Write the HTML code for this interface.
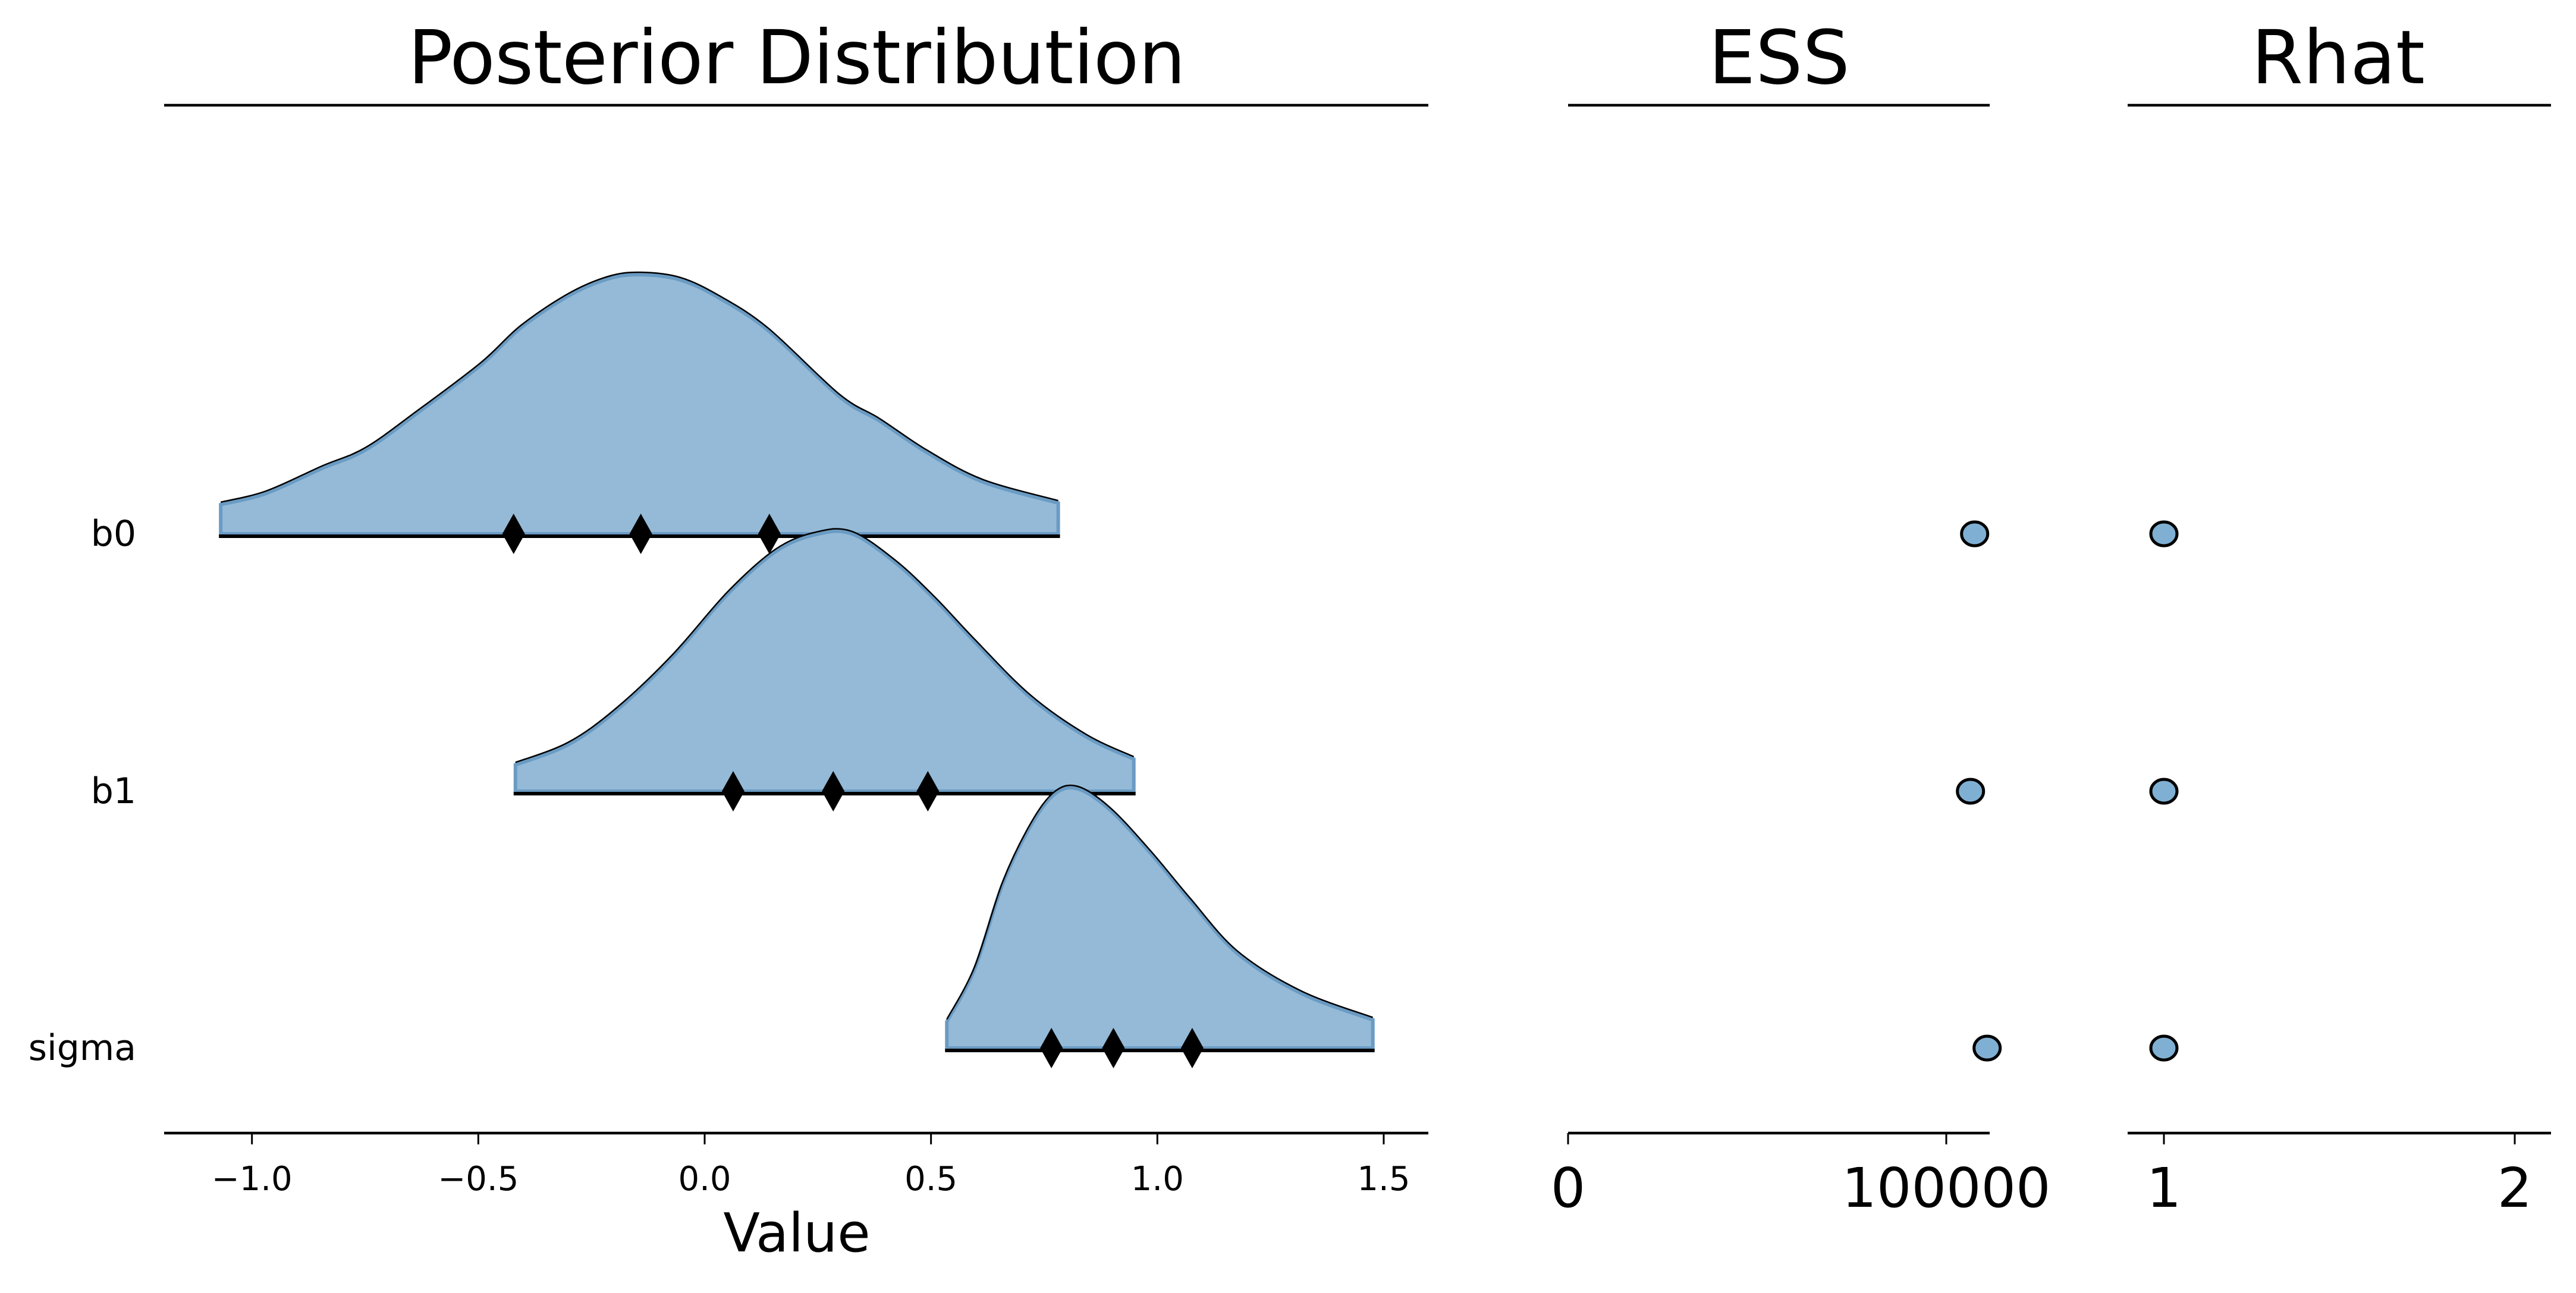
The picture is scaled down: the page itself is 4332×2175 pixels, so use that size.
<!DOCTYPE html>
<html><head><meta charset="utf-8"><style>
html,body{margin:0;padding:0;background:#fff;}
svg{display:block;font-family:"DejaVu Sans","Liberation Sans",sans-serif;}
</style></head><body>
<svg id="chart" width="4332" height="2175" viewBox="0 0 4332 2175" xmlns="http://www.w3.org/2000/svg">
<g id="g-post"></g>
<g id="g-ess"></g>
<g id="g-rhat"></g>
</svg>
<script>
const params = ["b0","b1","sigma"];
const b0X = [-1.069,-0.969,-0.846,-0.749,-0.634,-0.494,-0.406,-0.301,-0.213,-0.142,-0.054,0.034,0.140,0.298,0.386,0.491,0.614,0.781];
const b0D = [0.113,0.156,0.252,0.324,0.467,0.652,0.795,0.918,0.984,1.0,0.980,0.908,0.785,0.529,0.436,0.314,0.201,0.119];
const b1X = [-0.418,-0.301,-0.195,-0.072,0.051,0.156,0.244,0.324,0.420,0.508,0.596,0.719,0.843,0.948];
const b1D = [0.102,0.180,0.312,0.516,0.761,0.924,0.990,0.994,0.884,0.741,0.578,0.363,0.210,0.124];
const sigmaX = [0.535,0.596,0.658,0.720,0.773,0.825,0.896,0.984,1.072,1.177,1.318,1.476];
const sigmaD = [0.102,0.303,0.631,0.857,0.980,1.0,0.918,0.754,0.570,0.365,0.211,0.109];
const quantiles = [[-0.422,-0.141,0.143],[0.063,0.284,0.493],[0.766,0.903,1.077]];
const essValues = [107500,106400,110800];
const rhatValues = [1.0,1.0,1.0];
const valueTicks = [-1.0,-0.5,0.0,0.5,1.0,1.5];
const valueTickLabels = ["\u22121.0","\u22120.5","0.0","0.5","1.0","1.5"];
const essTicks = [0,100000];
const essTickLabels = ["0","100000"];
const rhatTicks = [1,2];
const rhatTickLabels = ["1","2"];

const NS="http://www.w3.org/2000/svg";
function mk(tag,attrs,parent){const e=document.createElementNS(NS,tag);for(const k in attrs)e.setAttribute(k,attrs[k]);parent.appendChild(e);return e;}
const xV = v => 1185 + v*761.3;
const rowY = [898,1331,1763];
const hScale = 436;
const xE = v => 2637 + v*0.00636;
const xR = v => 3639 + (v-1)*590;

const gP=document.getElementById('g-post');
const gE=document.getElementById('g-ess');
const gR=document.getElementById('g-rhat');
const fill="#94bad7", edge="#6a9bc3";

function smooth(pts){
  let d='';
  for(let i=0;i<pts.length-1;i++){
    const p0=pts[Math.max(0,i-1)],p1=pts[i],p2=pts[i+1],p3=pts[Math.min(pts.length-1,i+2)];
    const c1=[p1[0]+(p2[0]-p0[0])/6,p1[1]+(p2[1]-p0[1])/6];
    const c2=[p2[0]-(p3[0]-p1[0])/6,p2[1]-(p3[1]-p1[1])/6];
    d+=` C${c1[0].toFixed(1)},${c1[1].toFixed(1)} ${c2[0].toFixed(1)},${c2[1].toFixed(1)} ${p2[0].toFixed(1)},${p2[1].toFixed(1)}`;
  }
  return d;
}

function title(g,txt,cx,name,len){const t=mk('text',{x:cx,y:140,'font-size':125,'text-anchor':'middle',fill:'#000'},g);if(len)t.setAttribute('textLength',len);t.textContent=txt;

}
title(gP,"Posterior Distribution",1340,'posterior-title',1308);
title(gE,"ESS",2992,'ess-title');
title(gR,"Rhat",3932,'rhat-title');
function hline(g,x1,x2,y,name){const l=mk('line',{x1:x1,x2:x2,y1:y,y2:y,stroke:'#000','stroke-width':4.5},g);

}
hline(gP,276,2402,177,'posterior-top-line');
hline(gP,276,2402,1906,'value-axis-line');
hline(gE,2637,3346,177,'ess-top-line');
hline(gE,2637,3346,1906,'ess-axis-line');
hline(gR,3578,4290,177,'rhat-top-line');
hline(gR,3578,4290,1906,'rhat-axis-line');

function ticks(g,vals,labels,fx,fs,ly,name){vals.forEach((v,i)=>{const x=fx(v);
const tk=mk('line',{x1:x,x2:x,y1:1906,y2:1925,stroke:'#000','stroke-width':3},g);


const t=mk('text',{x:x,y:ly,'font-size':fs,'text-anchor':'middle',fill:'#000'},g);t.textContent=labels[i];

});}
ticks(gP,valueTicks,valueTickLabels,xV,56,2002,'value-axis');
ticks(gE,essTicks,essTickLabels,xE,92,2030,'ess-axis');
ticks(gR,rhatTicks,rhatTickLabels,xR,92,2030,'rhat-axis');
const vl=mk('text',{x:1340,y:2105,'font-size':90,'text-anchor':'middle',fill:'#000'},gP);vl.textContent="Value";



const xs=[b0X,b1X,sigmaX], ds=[b0D,b1D,sigmaD];
params.forEach((p,i)=>{
  const y0=rowY[i], X=xs[i], D=ds[i];
  const lab=mk('text',{x:229,y:y0+20,'font-size':60,'text-anchor':'end',fill:'#000'},gP);lab.textContent=p;
  
  
  const pts=X.map((x,j)=>[xV(x),y0-D[j]*hScale]);
  const curve=smooth(pts);
  const first=pts[0], last=pts[pts.length-1];
  const area=mk('path',{d:`M${first[0]},${y0} L${first[0]},${first[1]}${curve} L${last[0]},${y0} Z`,fill:fill,stroke:edge,'stroke-width':6},gP);
  
  
  const opts=pts.map(q=>[q[0],q[1]-4]);
  const outline=mk('path',{d:`M${opts[0][0]},${opts[0][1]}`+smooth(opts),fill:'none',stroke:'#000','stroke-width':2.5},gP);
  
  
  const base=mk('line',{x1:first[0]-3,x2:last[0]+3,y1:y0+4,y2:y0+4,stroke:'#000','stroke-width':6},gP);
  
  
  quantiles[i].forEach((q,k)=>{const x=xV(q);
    const dm=mk('polygon',{points:`${x},${y0-34} ${x+19},${y0} ${x},${y0+34} ${x-19},${y0}`,fill:'#000'},gP);
    
    });
  const e=mk('ellipse',{cx:xE(essValues[i]),cy:y0,rx:22,ry:20,fill:'#7fb0d3',stroke:'#000','stroke-width':5},gE);
  
  
  const r=mk('ellipse',{cx:xR(rhatValues[i]),cy:y0,rx:22,ry:20,fill:'#7fb0d3',stroke:'#000','stroke-width':5},gR);
  
  
});
</script>
</body></html>
